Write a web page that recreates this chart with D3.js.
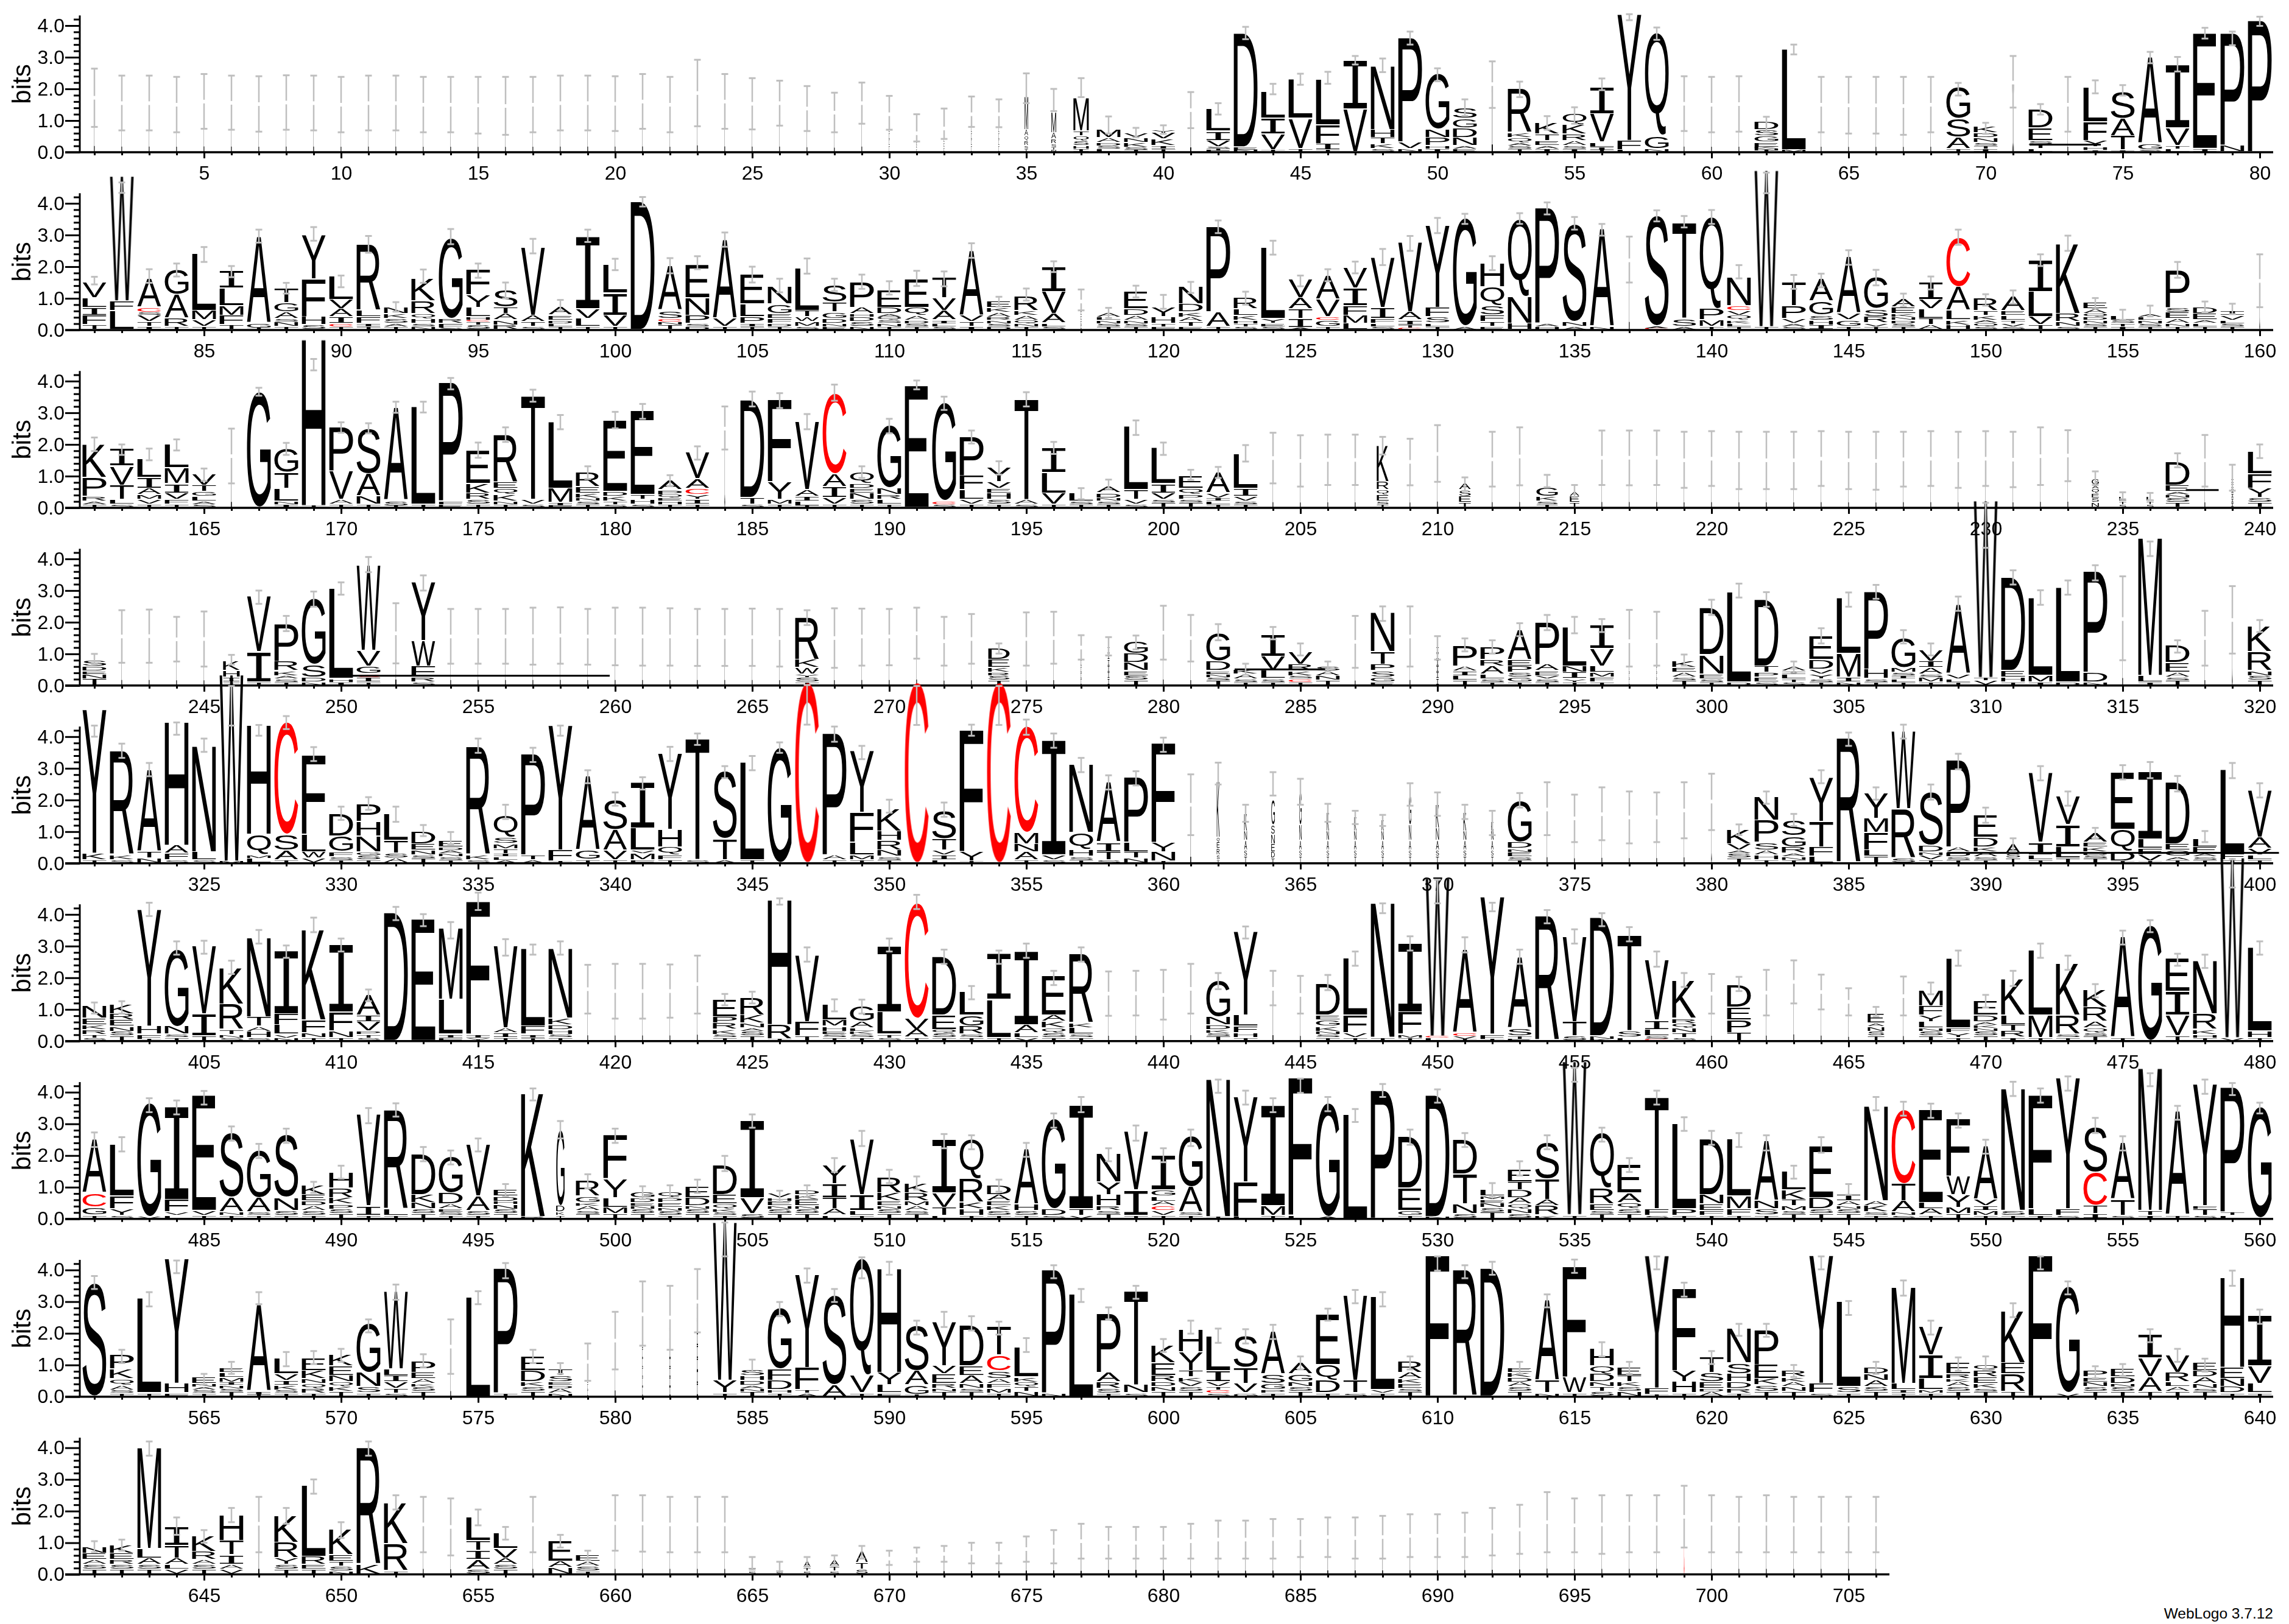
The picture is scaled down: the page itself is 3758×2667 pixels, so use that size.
<!DOCTYPE html>
<html><head><meta charset="utf-8">
<style>html,body{margin:0;padding:0;background:#fff}svg{display:block}</style>
<script src="https://d3js.org/d3.v7.min.js"></script></head><body>
<script>
// Each entry: stack letters bottom-to-top with bits | error low | error high | optional width factor
const row1=["I1.72|.8|2.64|.03","I1.55|.69|2.42|.03","I1.55|.69|2.42|.03","I1.5|.63|2.38|.03","I1.6|.74|2.47|.03","I1.56|.71|2.42|.03","I1.52|.65|2.4|.03","I1.57|.71|2.43|.03","I1.55|.69|2.42|.03","I1.5|.63|2.38|.03",
"I1.55|.69|2.42|.03","I1.55|.69|2.42|.03","I1.5|.63|2.38|.03","I1.5|.63|2.38|.03","I1.48|.59|2.38|.03","I1.46|.55|2.38|.03","I1.5|.63|2.38|.03","I1.55|.69|2.42|.03","I1.55|.69|2.42|.03","I1.53|.67|2.4|.03",
"I1.6|.74|2.47|.03","I1.5|.63|2.38|.03","I1.87|.82|2.92|.03","I1.6|.74|2.47|.03","I1.53|.72|2.34|.03","I1.55|.84|2.26|.03","I1.38|.67|2.09|.03","I1.25|.63|1.88|.03","I1.55|.9|2.2|.03","I.2I.2I.2I.2I.2I.2|.71|1.78|.03",
"I.1I.1I.1I.1I.1I.1|.34|1.2|.03","I.15I.15I.15I.15I.15|.42|1.38|.03","I.2I.2I.2I.2I.2I.2|.8|1.76|.03","I.2I.2I.2I.2I.2I.2|.79|1.67|.03","T.1S.1R.15Q.15A.2M1.05|1.55|2.49|.15","N.05T.1S.1R.15A.2M.65|1.3|2|.2","I.1H.1S.15Q.15T.15M1.05|1.74|2.34|.65","L.1S.1D.1A.15M.25|.59|1.13","T.05S.1K.15N.15V.15|.47|.77","T.1I.1K.2V.2Y.1|.58|.85",
"I1.33|.76|1.9|.05","F.05T.05S.05V.2I.3L.7|1.19|1.55","N.05E.1D3.6|3.57|3.96","T.05V.5I.5L.85|1.83|2.16","T.1V.95L1.25|2.13|2.48","T.05I.2F.6L1.45|2.16|2.54","V1.35I1.55|2.77|3.04","S.1K.15T.2H.25N2|2.53|2.96","N.1V.2P3.3|3.4|3.81","I.1H.1P.25N.25G1.75|2.24|2.65",
"E.1A.1N.25D.3G.3S.35|1.15|1.67","I2.15|1.4|2.87|.05","T.1S.1A.1Q.15K.15R1.4|1.74|2.23","I.1A.1E.15T.2K.35|.71|1.14","I.1S.1A.15R.2K.3Q.35|.9|1.42","T.05I.1L.15V.9I.85|1.96|2.33","L.05F.3Y4|4.17|4.36","N.1G.4Q3.25|3.55|3.94","I1.53|.67|2.4|.03","I1.5|.63|2.38|.03",
"I1.52|.65|2.4|.03","T.05N.05K.05E.15G.2S.2D.25|.64|1.12","M.05L3.2|3.09|3.4","I1.5|.63|2.38|.03","I1.48|.59|2.38|.03","I1.48|.59|2.38|.03","I1.46|.55|2.38|.03","I1.5|.63|2.38|.03","T.1A.35S.6G1|1.79|2.19","I.1T.1S.1N.15D.15K.2|.58|.93",
"I2.2|1.41|3.04|.05","L.1T.15S.1E.4D.6|1.19|1.52","I1.5|.65|2.38|.03","I.05H.1Y.2F.6L1.1|1.86|2.27","I.05T.45A.55S.85|1.79|2.12","S.05G.2A2.75|2.81|3.17","L.1T.1V.55I2|2.55|3.01","I.1E3.65|3.59|3.93","N.2P3.55|3.38|3.81","P4.15|3.99|4.28"];
const row2=["T.15F.3I.25L.3V.5|1.44|1.68","L.6F.3W3.95|4.33|4.66","I.1T.15V.2S.1C.15A.9|1.49|1.92","T.1R.25A.75G.8|1.69|2.1","T.1V.2M.3L1.8|2.15|2.62","T.15F.3M.3L.55I.55|1.67|2.02","T.05G.15A2.75|2.76|3.17","T.1N.15S.1A.2G.3T.45|1.15|1.49","S.15H.25F1.2Y1.4|2.82|3.25","T.1C.1I.2A.25V.3L.75|1.35|1.72",
"T.1I.1F.2L.2R2.1|2.44|2.97","T.1A.1S.15K.15N.2|.58|.88","N.1S.1H.15Q.15R.4K.7|1.49|1.91","S.05F.15R.15G2.55|2.71|3.19","S.15T.1C.05H.1L.3Y.4F.8|1.65|2.1","R.15N.15A.2T.2S.55|1|1.5","S.1T.15A.2V2.15|2.42|2.88","T.1L.1D.1E.15A.25|.61|.95","T.1L.25V.3I2.3|2.78|3.17","T.1V.35I.7L.9|1.89|2.25",
"D4.05|3.9|4.2","T.15N.1C.1S.25A1.4|1.79|2.27","D.1S.1P.25N.55E1.05|1.92|2.33","T.1V.25A2.5|2.63|3.08","T.1I.1P.2L.4E.95|1.5|2","T.1D.1F.15E.15G.3N.55|1.19|1.62","S.1M.15W.15T.2L1.35|1.78|2.26","E.1N.1D.15G.2T.3S.55|1.23|1.62","N.1S.15D.15H.1A.2P.8|1.3|1.75","T.1N.1S.1Q.1A.1D.2E.55|1.12|1.54",
"T.1S.1D.1A.15Q.25E.9|1.39|1.87","S.1L.1I.1A.3V.4T.65|1.38|1.85","I.1T.15V.2A2.05|2.28|2.74","D.1S.1N.1R.1A.15K.15E.2|.74|1.05","T.1N.1Q.1A.15K.15R.45|.93|1.31","S.1L.1A.3V.7I.8|1.83|2.17","I.15I.15I.15I.15I.15I.15|.62|1.28|.04","T.1S.1N.1L.1A.15|.38|.7","T.1S.1N.1A.15D.2E.55|1.03|1.4","F.1T.1H.2Y.3|.67|1.11",
"E.1T.15A.15K.15D.25N.55|1.17|1.52","T.1A.45P2.7|3.06|3.46","S.1T.1H.1K.15L.2R.35|.8|1.21","S.1E.1Y.15L2.25|2.38|2.82","A.05I.3T.3A.35V.6|1.38|1.72","T.1G.2C.1V.55A.75|1.54|1.92","L.2M.25F.3I.55V.65|1.79|2.16","S.1L.1F.15I.35V1.6|2.05|2.56","C.05T.1I.15A.25V2.2|2.5|2.97","T.1L.1S.2F.3Y2.6|3.06|3.54",
"A.1G3.4|3.35|3.67","E.1T.15F.2S.3Q.6H.75|1.89|2.33","H.2N.85Q2.45|3.35|3.69","H.1A.1P3.65|3.65|4.03","A.1N.15S3.1|3.17|3.57","N.1A3.1|2.98|3.35","I2.2|1.5|2.95|.03","C.05A.05S3.5|3.43|3.78","A.1S.25T3.05|3.24|3.6","T.1M.2P.35Q2.9|3.35|3.79",
"T.1L.1K.1Q.15V.15C.15N.9|1.63|2.05","T.1W4.95|4.32|4.97","S.1A.1V.15P.4T.75|1.3|1.74","I.15H.15S.15G.45A.7|1.35|1.78","T.1G.2V.2A1.8|2.06|2.52","T.1V.1R.2S.25G1|1.41|1.9","T.1S.1D.1N.1K.1E.2A.25|.74|1.15","A.15T.2L.3V.3I.55|1.28|1.69","H.15K.15L.3A.75C1.55|2.69|3.17","S.1Q.1A.1K.15T.15R.4|.77|1.13",
"S.1V.1T.1L.15E.15A.45|.83|1.25","T.15V.25L.8I1|2.02|2.39","S.1N.15R.25K2.2|2.5|2.98","T.1S.1N.1D.1Q.1A.15E.2|.67|1.01","I.1T.1S.1L.15|.32|.64","T.1S.1N.1L.1A.1|.43|.77","T.1N.1A.15E.2S.15P1.2|1.65|2.15","T.1L.1A.1E.2D.2|.56|.9","T.1S.1L.1V.15I.15|.5|.83","I1.55|.72|2.39|.03"];
const row3=["T.1A.1R.15P.6K1.05|1.79|2.22","S.1L.15T.45V.6I.55|1.67|2","T.1V.15M.15A.2I.35L.6|1.5|1.87","T.1F.15V.2I.3M.5L.75|1.81|2.16","S.1A.1L.15G.15T.2V.35|.85|1.24","I1.63|.77|2.5|.04","G3.65|3.54|3.79","I.1N.1L.4T.5G.75|1.67|2.05","T.05H5.25|4.34|4.7","T.1A.15V.9P1.4|2.37|2.7",
"T.1N.25A.7S1.45|2.35|2.67","T.05S.15A2.95|3|3.35","T.1L3.1|3.01|3.35","E.1F.1P3.75|3.74|4.1","T.1S.15R.2K.3E1.05|1.58|2.06","T.1N.1K.2Q.2E.2R1.5|2.08|2.54","S.1V.15T3.3|3.35|3.73","F.05I.1M.45L2.1|2.48|2.93","T.1S.1N.1K.15E.2R.45|.91|1.31","S.1T.1K.15D.15E2.25|2.51|3.03",
"S.1H.15T.15E2.65|2.81|3.28","T.1H.1E.1Q.1P.15A.3|.69|1.03","T.1I.15Y.15C.2A.3V.85|1.52|1.94","I2.5|1.84|3.2|.03","S.1T.2D3.1|3.2|3.67","T.1M.15Y.55F2.6|3.15|3.62","T.05L.15I.15A.2V2.15|2.48|2.96","T.1V.2I.35A.4C2.55|3.38|3.89","T.1S.15N.2E.15D.15Q.35|.94|1.31","T.1L.15R.15N.2G2|2.35|2.81",
"E3.85|3.74|4.02","S.1C.1G3.1|3.09|3.51","T.1V.15L.3F.45P1.25|2.03|2.44","T.1S.15H.2E.15V.2Y.45|1.05|1.47","S.1A.15T3.2|3.2|3.65","T.1V.35L.65I.8|1.7|2.08","T.1S.1L.25|.27|.62","T.1S.1N.1D.15A.2|.59|.89","S.1V.15T.3L2|2.3|2.76","T.15S.1V.2I.3L1.15|1.67|2.06",
"T.15S.1P.15Q.2E.4|.88|1.2","T.1L.1I.1V.15A.65|.94|1.29","T.1S.1V.15I.25L1.1|1.46|1.98","I1.57|.77|2.37|.03","I1.48|.67|2.29|.03","I1.51|.72|2.31|.03","I1.51|.72|2.31|.03","T.1S.1E.2Q.15R.25K1.15|1.68|2.24|.5","I1.45|.71|2.18|.03","I1.7|.82|2.61|.03",
"T.15E.2S.2A.2|.53|.96|.5","I1.53|.67|2.4|.03","I1.62|.71|2.54|.03","T.1S.1K.15G.3|.65|1.04|.9","T.15E.2A.15|.33|.72|.4","I1.58|.72|2.44|.03","I1.58|.71|2.44|.03","I1.58|.72|2.44|.03","I1.5|.63|2.4|.03","I1.55|.69|2.42|.03",
"I1.5|.59|2.4|.03","I1.5|.59|2.4|.03","I1.5|.59|2.4|.03","I1.55|.69|2.42|.03","I1.5|.59|2.4|.03","I1.48|.57|2.4|.03","I1.53|.67|2.4|.03","I1.55|.69|2.42|.03","I1.5|.63|2.4|.03","I1.55|.69|2.42|.03",
"I1.52|.65|2.4|.03","I1.63|.72|2.54|.03","I1.65|.84|2.45|.03","N.15S.15E.15Q.15A.1G.2|.72|1.15|.3","S.1T.1L.15|.27|.49|.3","S.1T.1L.15|.24|.47|.3","T.15S.15N.1A.1E.2D.75|1.28|1.72","I1.5|.67|2.3|.03","I.15I.15I.15I.15I.15I.15|.54|1.36|.1","T.15S.15Y.3F.45L.7|1.57|2"];
const row4=["T.2N.15E.1D.15S.2|.69|1","I1.55|.72|2.38|.03","I1.56|.72|2.4|.03","I1.46|.76|2.17|.03","I1.47|.6|2.34|.03","T.1I.15H.2K.3|.66|.97|.7","T.1I.95V1.75|2.58|3","T.1S.1A.1K.15R.3P1.2|1.72|2.2","N.1D.15S.4G2.1|2.49|2.97","I.1H.1L2.85|2.87|3.26",
"T.1I.15C.1G.25V.5W2.7|3.58|4.06","I1.65|.7|2.6|.05","S.1R.15F.35W.8Y1.85|3|3.48","I1.55|.69|2.42|.03","I1.55|.69|2.42|.03","I1.55|.69|2.42|.03","I1.56|.66|2.46|.03","I1.58|.69|2.47|.03","I1.55|.66|2.42|.03","I1.55|.64|2.46|.03",
"I1.55|.63|2.46|.03","I1.55|.63|2.44|.03","I1.53|.62|2.42|.03","I1.53|.62|2.42|.03","I1.53|.62|2.43|.03","I1.5|.6|2.42|.03","T.1S.15Y.1W.2K.25R1.35|1.91|2.38","I1.5|.56|2.44|.03","I1.55|.63|2.43|.03","I1.55|.64|2.42|.03",
"I1.65|.85|2.46|.03","I1.4|.63|2.17|.03","I1.47|.69|2.26|.03","T.15S.15R.1K.15E.25D.35|1.01|1.33|.9","I1.47|.63|2.31|.03","I1.5|.69|2.33|.03","I.2I.2I.2I.2I.2I.2|.82|1.59|.04","I.2I.2I.2I.2I.2I.2|.95|1.53|.08","T.15S.15E.15N.25D.3G.4|1.14|1.58","I1.67|.82|2.52|.03",
"I1.5|.76|2.23|.03","T.15S.1N.1E.1D.3G.9|1.43|1.94","T.1S.1A.15K.15|.34|.69","T.1S.1L.25V.45I.7|1.46|1.85","T.1C.1S.1K.15R.2V.4|.95|1.33","T.15N.15A.15S.15|.44|.76","I1.38|.56|2.2|.03","E.1G.15S.2P.2T.4N1.25|2.04|2.5","I1.55|.6|2.5|.03","I.2I.2I.2I.2I.2I.2|.82|1.56|.1",
"T.15L.15I.15A.15P.65|1.08|1.49","T.1S.1L.15A.25R.2P.4|1.01|1.43","T.1G.15S.15P.2E.2A.95|1.56|1.97","T.1S.1V.1E.15A.2P1.35|1.75|2.23","T.1Y.1I.2N.2L1.25|1.65|2.17","T.1F.15M.15L.2V.55I.75|1.69|2.1","I.2I.2I.2I.2I.2I.2I.2|.6|2.39|.03","I.2I.2I.2I.2I.2I.2I.2|.63|2.33|.03","T.15S.1A.15E.15K.2|.63|.98","T.1S.1E.15N.6D1.5|2.23|2.71",
"D.1L2.85|2.78|3.22","S.1E.15P.15T.2D2.1|2.49|2.95","S.1T.1L.15I.1A.15|.4|.76","T.1S.1Y.15V.15D.3E.75|1.33|1.81","N.1I.15M.75L1.75|2.49|2.94","T.1S.1H.3P2.45|2.74|3.18","T.1L.1I.1S.1M.15G.95|1.33|1.75","T.1M.15S.1A.2I.2V.35|.95|1.33","T.1L.1V.15A2.2|2.36|2.81","V.15T.1W5.6|4.35|5.77",
"T.1H.15E.2D2.95|3.19|3.64","I.1M.2L2.45|2.55|3.01","D.1L3|2.87|3.32","N.1D.3P3.2|3.32|3.8","I2.1|.8|3.45|.03","I.1L.2M4.35|4.09|4.55","T.15S.1A.15E.3D.55|1.04|1.43","I1.5|.63|2.36|.03","I2.07|1.01|3.14|.03","T.15S.15N.15R.6K.8|1.69|2.07"];
const row5=["T.1K.2Y4.55|4|4.35","S.1K.15R3.3|3.33|3.78","N.15T.2A2.6|2.75|3.17","S.1F.2A.25H3.9|4.06|4.45","S.1L.25N3.35|3.52|3.94","M.05W5.9|4.35|5.6","L.15M.1Q.65H3.45|4.03|4.37","T.1A.3S.5C3.55|4.24|4.65","V.15W.2L.55F2.5|3.23|3.67","T.1S.1F.15G.5D.7|1.37|1.79",
"T.1S.15G.1N.5H.45P.55|1.69|2.09","A.15S.15T.4L.85|1.31|1.79","T.15S.1N.15E.2D.4|.86|1.21","T.1S.1N.1A.1D.1E.2|.6|.99","S.1K.15R3.45|3.49|3.94","A.1L.1I.1T.15M.15S.2Q.7|1.4|1.85","A.1T.15P3.2|3.2|3.65","T.05F.35Y3.95|4.03|4.35","T.1G.3A2.35|2.53|2.94","T.1V.3A.65S.95|1.82|2.24",
"F.1M.2V.1L.7I1.45|2.33|2.72","T.1F.15Q.25H.55Y2.4|3.23|3.68","S.1T3.85|3.74|4.1","A.1T.65S2.15|2.69|3.07","T.1L3.1|2.94|3.39","G3.65|3.49|3.82","C5.7|4.38|5.63","T.1A.15P3.85|3.84|4.32","T.1M.15L.4F.95Y1.95|3.29|3.71","T.1S.1N.2R.3H.3K.7|1.6|2.01",
"C5.7|4.37|5.6","L.1I.15V.15T.35S.9|1.47|1.92","T.05Y.3F3.85|4.03|4.38","C5.7|4.37|5.6","T.1A.25N.25M.35C3.35|4.06|4.54","S.1V.15I3.65|3.65|4.1","T.1S.1H.2Q.55N2.15|2.88|3.33","S.1T.25I.3A1.9|2.33|2.78","N.15T.2L.3P2.05|2.46|2.91","T.05N.3Y.3F3.15|3.52|3.97",
"I1.85|.89|2.81|.04","T.1S.15R.2E.2Q.15K1.75|2.49|3.18|.12","T.2S.2A.3N.3K.55|1.31|1.85|.12","T.15D.2E.25N.3S.3G.8|2.14|2.88|.15","T.2S.2A.3N.5G1.05|1.85|2.67|.1","T.2S.2A.3N.3K.6|1.31|1.88|.1","T.2S.2A.3N.3K.45|1.24|1.66|.1","T.2S.2A.3N.3K.35|1.18|1.53|.1","T.2S.2A.3N.5G.95|1.82|2.53|.1","T.2S.2A.3N.4K.75|1.5|2.24|.13",
"T.2S.2A.3N.3K.6|1.4|1.85|.12","T.2S.2A.3N.3K.3|.89|1.66|.1","T.1S.1E.15N.1D.2G1.3|1.76|2.22","I1.7|.89|2.56|.03","I1.42|.67|2.17|.03","I1.55|.73|2.4|.03","I1.45|.63|2.27|.03","I1.45|.67|2.24|.03","I1.67|.79|2.56|.03","I1.95|1.05|2.83|.03",
"T.15S.15A.1V.2K.45|.89|1.23","T.1H.15A.15S.25P.7N.75|1.88|2.27","T.1N.1A.1R.2G.35S.5|1.18|1.56","L.2F.3T.8Y1.4|2.53|2.94","R3.95|3.71|4.13","T.2L.2F.55M.45Y.8|2.01|2.4","S.15R1.55W2.45|3.94|4.38","T.1V.15N.1D.2S1.7|2.01|2.49","T.1S.1D.15A.15P2.75|2.97|3.46","T.1S.1A.15K.15D.3E.7|1.28|1.76",
"T.15S.15A.3|.38|.79|.6","T.1L.15I.4V2.2|2.62|3.07","T.15L.35I.7V.9|1.82|2.27","T.15S.1D.1K.15E.15A.3|.79|1.12","T.05D.3Q.7E1.8|2.65|3.1","T.05V.2F.2L.3I2.15|2.69|3.2","T.1A.1G.2E.2D1.95|2.27|2.76","T.1S.1A.1E.2L.25|.67|1.02","T.1F.2L2.65|2.69|3.17","T.1L.15V.2A.35V1.5|2.08|2.53"];
const row6=["S.1T.1R.15K.15E.2N.4|.87|1.22","T.15S.15N.15E.2R.2K.3|.87|1.26","T.05F.15H.25Y3.7|3.95|4.37","T.1S.1N.25G2.45|2.73|3.15","T.15I.7V2.15|2.76|3.17","S.1N.1T.15R.8K1.15|2.12|2.54","S.1H.2A.15T.3N2.5|3.08|3.51","N.1V.1L.3F.35I2|2.63|3.02","T.1N.15F.4K2.85|3.44|3.9","T.1N.2F.6I2.15|2.83|3.24",
"S.1T.1P.1V.3I.2A.65|1.26|1.63","D4.05|3.82|4.24","E3.85|3.63|4.01","F.1I.1L1.1M2.25|3.24|3.76","Y.1I.1F4.2|4.14|4.69","T.1I.15A.15V2.6|2.7|3.22","T.1I.1F.25L2.45|2.73|3.05","T.1S.1H.15D.15K.2N2.2|2.73|3.15","I1.64|.87|2.41|.03","I1.58|.71|2.44|.03",
"I1.58|.71|2.44|.03","I1.58|.74|2.42|.03","I1.8|.87|2.7|.03","T.1S.1K.15R.2P.2E.55|1.13|1.49","T.15S.15A.1N.15K.25R.55|1.19|1.56","T.05R.45H3.95|4.31|4.51","T.15F.45V2.1|2.51|2.96","T.1S.1E.1H.15M.2L.5|.94|1.32","T.1S.1K.1L.1A.2G.5|.87|1.31","S.1T.1L.7I2.1|2.83|3.24",
"T.1A.25V.35C3.65|4.17|4.62","T.1S.15Q.1E.45D1.85|2.44|2.89","T.1S.1R.25G.35L.75|1.32|1.74","T.1L1.2I1.45|2.44|2.86","V.1L.15A.25I2.35|2.63|3.08","T.1S.15Q.15K.2A.2E1.25|1.77|2.22","T.1S.1L.2K.15R2.2|2.51|2.96","I1.5|.8|2.2|.03","I1.51|.81|2.22|.03","I1.46|.68|2.25|.03",
"I1.65|.87|2.44|.03","T.15S.1K.1D.15N.25G1.15|1.64|2.15","T.1H.15F.2L.35Y2.65|3.24|3.62","I1.65|1.13|2.22|.04","I1.46|.87|2.06|.03","T.1S.1N.1K.15G.2E.15D1|1.61|2.09","T.1V.15F.55L1.8|2.38|2.83","T.1N4.25|4.04|4.35","T.1M.1F.7I2.2|2.86|3.31","L.1C.05W5|4.35|5.1",
"T.05V.1C.1A2.65|2.8|3.28","T.05F.15Y4.35|4.1|4.37","E.05T.1S.25A2.25|2.44|2.89","R3.95|3.72|4.14","S.15T.45V2.7|3.08|3.53","K.05N.1D3.75|3.63|4.04","L.1S.2T3.05|3.15|3.6","C.05S.1L.2I.3V1.9|2.35|2.83","S.1T.15N.15Q.15R.15K1.2|1.71|2.15","I1.5|.87|2.12|.03",
"T.25P.4E.4D.7|1.58|2.03","I1.53|.81|2.25|.03","I1.87|1.19|2.55|.03","I1.55|1|2.1|.03","I1.24|.81|1.67|.03","T.15S.15N.15A.1E.3|.78|1.08|.7","I1.42|.81|2.04|.03","T.15S.15N.1L.2Y.2F.3M.5|1.48|1.85","T.1Y.15F.15L2.2|2.38|2.86","T.15S.15N.1K.1A.1D.2E.45|1.06|1.46",
"I.1R.2T.2L.3K1.15|1.74|2.22","T.1M.7L2.05|2.63|3.08","T.1S.1R.6K1.65|2.25|2.7","T.15S.1Q.15A.2R.45K.55|1.38|1.8","T.1A3.2|3.05|3.49","G3.65|3.44|3.82","T.15V.65I.75E1.05|2.38|2.76","T.1H.1K.15R.5N1.7|2.31|2.73","V.1W5.7|4.85|5.75","T.1H.2L2.65|2.73|3.15"];
const row7=["T.1G.25C.45A1.7|2.27|2.73","S.1Y.2F.4L1.65|2.13|2.58","V.05G3.6|3.37|3.81","L.1V.1F.4I2.95|3.3|3.74","T.1V.15E3.65|3.61|4.04","T.1N.1A.45S2.05|2.47|2.92","T.1S.1A.45G1.5|1.92|2.37","T.1S.15N.4S2|2.4|2.85","T.1S.15A.15D.15E.2K.3|.82|1.17","T.15S.15P.15K.2R.3H.5|1.27|1.68",
"T.1I.3V2.9|3.02|3.5","T.1L.2R3.15|3.23|3.65","T.15S.15N.2K.25D1.3|1.82|2.27","T.1S.1E.1A.15D.35G1.15|1.72|2.16","T.1S.15A.45V1.65|2.13|2.54","T.15S.15N.15H.1D.15E.2|.72|1.1","R.05K3.9|3.74|4.12","T.1K.1D.2G2.4|2.54|3.09|.35","T.15S.1A.15K.1G.2R.5|.96|1.41","T.15M.2L.3Y.6F1.4|2.4|2.85",
"T.15S.15N.1E.1D.15G.2|.62|1.03","T.1S.15N.1E.15P.15Q.2|.65|1.06","T.15S.15N.1D.25E.35|.82|1.24","T.1S.1K.1Q.15E.3D.95|1.51|1.99","S.15V.5I2.45|2.88|3.3","T.15S.15N.1E.15H.1V.15|.55|.89","T.15S.15N.1E.2K.15D.15|.69|1.06","L.1A.2T.35I.45Y.6|1.48|1.92","T.1L.15I.5V1.75|2.3|2.78","T.15S.15N.1E.15K.25R.5|1.13|1.55",
"T.15S.1A.15M.15R.25K.3|.93|1.34","L.1T.25V.45I1.7|2.23|2.68","T.1H.2K.2R.75Q1.25|2.2|2.64","T.1S.15K.15E.15A.2D.3|.86|1.24","T.1S.15H.2A1.75|1.96|2.4","S.1D.2G2.85|2.88|3.33","V.1T.2I3.3|3.37|3.85","T.15S.1R.15H.35Y.4N.9|1.82|2.23","T.1I.8V1.85|2.47|2.95","T.1V.15C.15A.15L.15G.2I1.1|1.79|2.23",
"T.1S.1A.8G1.6|2.3|2.82","T.05N4.35|3.98|4.4","L.05F1.1Y2.7|3.61|4.05","T.1M.3I3.2|3.37|3.81","L.1F4.35|3.98|4.43","A.05G3.6|3.4|3.85","L3.3|3.06|3.47","P4.05|3.85|4.26","T.1G.15E.7D1.65|2.34|2.82","N.05D3.85|3.67|4.09",
"S.15N.3T.95D1.1|2.27|2.71","T.2S.15N.15E.1M.1L.2|.69|1.13","S.15N.15Q.15A.2D.25T.25E.4|1.37|1.82","K.1R.3A.2T.65S1.15|2.2|2.64","T.1W4.85|4.33|4.77","T.15S.1E.2R.5Q1.75|2.44|2.88","T.15S.15Q.2A.3E.9|1.48|1.92","S.1F.2T3.55|3.61|4.05","T.1P.2L2.7|2.78|3.21","T.1F.15E.2N.3D1.75|2.34|2.78",
"T.1F.2M.4L1.8|2.27|2.71","T.1S.2N.25A1.9|2.16|2.64","T.15S.1M.15T.2K.3L.6|1.27|1.68","T.15S.15D.35E1.65|2.09|2.58","T.15S.15N.1A.15I.2|.76|1.1","T.1S.1K.2A.15N3|3.43|3.85","S.1N.1A.35T.55C2.35|3.26|3.7","T.1A.2L.2E2.95|3.19|3.64","T.15M.2Y.4W.6F1.8|2.88|3.33","T.1M.15I.15V.2A1.7|2.06|2.5",
"T.1S.15N3.85|3.88|4.33","I.1L.2F3.6|3.67|4.12","S.1F.2Y4.15|4.05|4.5","I.15T.25C1.05S1.45|2.71|3.19","S.1T.5A1.8|2.16|2.61","I.1T.15M4.5|4.19|4.6","T.1A3.3|3.13|3.57","S.1T.2F.1Y3.85|3.95|4.4","L.1T.1P3.95|3.91|4.29","G3.5|3.33|3.67"];
const row8=["S3.6|3.4|3.81","T.1S.1A.15Q.2K.3P.45|1.06|1.48","T.1L3|2.85|3.3","F.1H.3Y3.95|3.9|4.3","T.1S.1A.1N.1E.2|.38|.72","T.15S.1N.1I.1M.15L.15E.15|.72|1.1","T.05I.1A2.75|2.92|3.3","T.1S.1K.15I.15V.2L.5|.96|1.41","T.1R.15Q.15N.15K.25E.4|1.03|1.44","T.15K.15Q.15N.2E.3K.35|1.1|1.51",
"T.1S.2N.45G1.55|2.03|2.44","S.1T.15V.2I.2L.2W2.45|3.06|3.54","T.15S.15K.1A.15E.2P.35|.93|1.34","I1.58|.72|2.44|.03","L3.15|2.92|3.33","T.1P3.95|3.74|4.22","T.15S.15K.15D.35E.45|1.06|1.48","N.1A.15D.1E.1S.2T.2|.72|1.06","I.2I.2I.2I.2I.2I.1|.5|1.68|.03","I1.77|.86|2.68|.03",
"I.3I.3I.3I.3I.3I.3I.3I.3I.2|1.61|3.64|.03","I.3I.3I.3I.3I.3I.3I.3I.4|1.48|3.5|.05","I.4I.4I.4I.4I.4I.4I.4I.2|2.03|4.03|.05","T.1Y.4W5|4.43|5.5","T.15N.1A.1D.15H.15S.2|.79|1.17","T.1H.1D.3F.35G1.95|2.54|2.99","A.1T.1F.7Y2.95|3.6|4.05","A.35S2.85|2.99|3.4","T.1V.55Q3.7|3.74|4.4","F.1L.25Y.4H3.3|3.85|4.26",
"T.05G.3A.45S1.45|1.96|2.4","T.15N.1R.15E.3V.25Y1.4|2.2|2.68","T.15S.1N.15A.25E.3D1.3|2.09|2.54","T.1M.15F.15A.15S.25C.5T.9|1.96|2.37","N.15T.15Q.15K.15L.95|1.41|1.85","N.1P3.9|3.74|4.15","L3.25|2.99|3.4","T.1S.15R.2A.3P1.85|2.44|2.82","S.1N.25T3|3.09|3.5","T.15N.15D.15R.2E.4K.55|1.41|1.82",
"T.15S.15V.15K.15T.2Y.6H.7|1.99|2.4","S.1C.1T.1V.15I.35L1.1|1.7|2.15","G.1V.3T.5S1|1.68|2.13","T.1P.1G.2S.3A1.35|1.82|2.27","T.15S.15N.15G.25A.35|.86|1.27","T.1D.4Q.5E1.6|2.4|2.78","S.1T.4V2.7|2.95|3.37","T.1V.1L2.95|2.85|3.3","T.15S.1E.15K.15A.2R.35|.86|1.27","F4.45|3.98|4.43",
"R4|3.74|4.15","D4.05|3.85|4.26","T.15S.15A.15D.15K.15E.15|.72|1.1","N.1T.4A2.55|2.82|3.23","T.1W.5F3.5|3.91|4.33","S.15T.15N.15D.25Q.25H.55|1.27|1.72","N.15S.15K.15T.2E.25|.72|1.1","T.05F.2Y4.2|4.02|4.43","T.1H.35Y.35F2.6|3.16|3.6","A.15D.1E.2S.3T.5|1.03|1.44",
"T.1R.15D.2H.25S.35N1.1|1.92|2.3","T.15S.2K.2E.45P1.1|1.89|2.3","T.15N.15A.15K.15R.2|.62|1","S.1F.3Y4.05|4.02|4.43","T.1S.2L2.7|2.58|3.02","T.15S.15A.2N.2D.2|.72|1.1","T.1I.1L.2M3.05|3.19|3.67","T.1M.1L.35I.75V.9|1.96|2.4","T.15S.15A.15K.1R.15E.35|.82|1.24","T.15S.1K.15E.2R.2Q.2|.86|1.27",
"T.15R.55E.35K1.65|2.51|2.95","F4.45|4.02|4.43","V.1G3.35|3.23|3.64","T.15S.15N.15E.15P.2|.58|.96","T.15S.15N.1D.2E.25|.65|1.03","T.15A.45V.6I.75|1.72|2.13","T.15A.15L.15R.3V.55|1.1|1.51","T.15S.1N.15A.2D.2E.25|.79|1.2","T.1D.2N.25E.35H2.85|3.5|3.98","T.1L.3V.55I1.6|2.3|2.75"];
const row9=["T.15S.15A.15E.2N.2|.7|1.05","T.15S.15R.15E.2K.25|.75|1.1","T.15S.15A.2L.3M3.2|3.75|4.2","V.15L.15A.2T.4I.6|1.25|1.8","T.15S.15A.15R.25K.5|1|1.4","V.15A.15I.3T.45H.8|1.65|2.1","I1.6|.7|2.45|.05","T.15S.15Y.2R.5K.85|1.6|2.1","T.15E.15R.25L2.25|2.55|3","N.1S.15T.15E.2K.8|1.15|1.65",
"K.3R3.7|3.75|4.2","T.1R.85K1.3|2.05|2.5","I1.58|.7|2.45|.03","I1.5|.6|2.4|.03","S.15A.3I.3T.3L.75|1.55|2.05","T.15S.15A.2V.3L.5|1.1|1.5","I1.58|.7|2.45|.03","N.2A.2E.65|.85|1.25","T.1S.15A.15E.2|.45|.75","I1.62|.75|2.5|.03",
"I1.61|.72|2.5|.03","I1.58|.7|2.45|.03","I1.58|.7|2.45|.03","I1.58|.7|2.45|.03","S.1T.1|.15|.55|.3","S.05T.05|.1|.4|.3","S.1T.1A.2|.25|.55|.3","S.1T.15A.2|.3|.6|.4","S.15T.2A.35|.5|.9|.5","I.5|.3|.75|.05",
"I.6|.4|.85|.05","I.65|.4|.9|.05","I.68|.35|1|.05","I.68|.35|1|.05","I.8|.4|1.2|.05","I.88|.35|1.4|.05","I1.05|.5|1.6|.05","I1|.5|1.5|.05","I1|.5|1.5|.05","I1|.5|1.5|.05",
"I1.05|.5|1.6|.04","I1.1|.5|1.7|.04","I1.1|.5|1.7|.04","I1.12|.5|1.75|.04","I1.15|.55|1.75|.04","I1.18|.55|1.8|.04","I1.15|.5|1.8|.04","I1.18|.5|1.85|.04","I1.22|.55|1.9|.04","I1.22|.55|1.9|.04",
"I1.25|.55|1.95|.04","I1.35|.6|2.1|.04","I1.42|.65|2.2|.04","I1.65|.7|2.6|.03","I1.55|.7|2.4|.03","I1.58|.65|2.5|.03","I1.6|.7|2.5|.03","I1.6|.7|2.5|.03","C1.82|.85|2.8|.03","I1.6|.7|2.5|.03",
"I1.58|.7|2.45|.03","I1.6|.7|2.5|.03","I1.58|.7|2.45|.03","I1.58|.7|2.45|.03","I1.58|.7|2.45|.03","I1.58|.7|2.45|.03"];
// Long stray strokes: from position, to position, height in bits
const strayStrokes=[[71.6,74.2,.24],[237.3,238.5,.56],[250.4,259.8,.31],[282.6,285.9,.51],[388.6,400.7,.33]];
const yMajor=[0,1,2,3,4];
const yMinor=[.2,.4,.6,.8,1.2,1.4,1.6,1.8,2.2,2.4,2.6,2.8,3.2,3.4,3.6,3.8,4.2];
const rows=[row1,row2,row3,row4,row5,row6,row7,row8,row9];
const rowsPerLine=80;

const W=3758,H=2667,axisX=131,x0=155,step=45,bitPx=52,firstBase=250,rowGap=291.95,glyphW=39;
const sansFont="'Liberation Sans',Arial,sans-serif",monoFont="'Liberation Mono',monospace";
const svg=d3.select("body").append("svg").attr("width",W).attr("height",H).attr("viewBox",[0,0,W,H]).style("background","#fff");
const ctx=document.createElement("canvas").getContext("2d");
const FS=200,metricsCache={};
function fontOf(l){return l==="I"?monoFont:sansFont}
function ink(l){if(metricsCache[l])return metricsCache[l];ctx.font=FS+"px "+fontOf(l);const m=ctx.measureText(l);
 return metricsCache[l]={l:m.actualBoundingBoxLeft,r:m.actualBoundingBoxRight,a:m.actualBoundingBoxAscent,d:m.actualBoundingBoxDescent}}
function parse(s,pos){const f=s.split("|"),letters=[];let c=0;const re=/([A-Z])(\d*\.?\d+)/g;let m;
 while((m=re.exec(f[0]))){const h=+m[2];letters.push({l:m[1],from:c,to:c+h});c+=h}
 return {pos,letters,top:c,lo:+f[1],hi:+f[2],w:f[3]?+f[3]:1}}

rows.forEach((row,ri)=>{
 const start=ri*rowsPerLine+1,base=firstBase+ri*rowGap;
 const x=d3.scaleLinear().domain([start,start+rowsPerLine-1]).range([x0,x0+(rowsPerLine-1)*step]);
 const y=d3.scaleLinear().domain([0,1]).range([base,base-bitPx]);
 const data=row.map((s,i)=>parse(s,start+i));
 const last=start+row.length-1;
 const g=svg.append("g");
 // stacks (group opacity keeps the stretched glyphs free of coloured subpixel fringes)
 const flat=data.flatMap(d=>d.letters.map(t=>({...t,pos:d.pos,w:d.w})));
 g.append("g").attr("opacity",.999).selectAll("text").data(flat).join("text")
  .text(d=>d.l).attr("font-family",d=>fontOf(d.l)).attr("font-size",FS)
  .attr("fill",d=>d.l==="C"?"#ff0000":"#000")
  .attr("transform",d=>{const m=ink(d.l),w=Math.max(glyphW*d.w,1.2);
    const yt=y(d.to),full=y(d.from)-yt,pad=d.w<.06?(d.to-d.from>1?0:1.5):Math.min(2,full*.2),hh=Math.max(full-pad,.6);
    const sx=w/(m.l+m.r),sy=hh/(m.a+m.d);
    return `translate(${x(d.pos)-w/2+m.l*sx},${yt+m.a*sy}) scale(${sx},${sy})`});
 // stray strokes
 g.append("g").selectAll("rect").data(strayStrokes.filter(s=>s[0]>=start-1&&s[0]<=last)).join("rect")
  .attr("x",d=>x(d[0])).attr("width",d=>x(d[1])-x(d[0])).attr("y",d=>y(d[2])-1.5).attr("height",3).attr("fill","#000");
 // error bars
 const eb=g.append("g").attr("stroke","#bfbfbf").attr("fill","none");
 eb.selectAll("line.v").data(data).join("line").attr("class","v").attr("stroke-width",2.5)
  .attr("x1",d=>x(d.pos)).attr("x2",d=>x(d.pos)).attr("y1",d=>y(d.lo)).attr("y2",d=>y(d.hi));
 ["lo","hi"].forEach(k=>eb.selectAll("line."+k).data(data).join("line").attr("class",k).attr("stroke-width",3)
  .attr("x1",d=>x(d.pos)-5.5).attr("x2",d=>x(d.pos)+5.5).attr("y1",d=>y(d[k])).attr("y2",d=>y(d[k])));
 // gap in the bar at the top of hairline stacks
 g.append("g").selectAll("rect").data(data.filter(d=>d.w<=.05&&d.top>d.lo&&d.top<d.hi)).join("rect")
  .attr("x",d=>x(d.pos)-3).attr("width",6).attr("y",d=>y(d.top)-3).attr("height",6).attr("fill","#fff");
 // axes
 const allPos=d3.range(start,last+1);
 const xMinor=d3.axisBottom(x).tickValues(allPos).tickSize(5).tickFormat("");
 const xMajor=d3.axisBottom(x).tickValues(allPos.filter(p=>p%5===0)).tickSize(10).tickFormat(d3.format("d"));
 const rightEnd=x(last)+22;
 const styleAxis=a=>{a.selectAll("line").attr("stroke","#000").attr("stroke-width",3);a.select(".domain").remove();
   a.selectAll("text").attr("fill","#000").attr("font-family",sansFont).attr("font-size",32).attr("y",45).attr("dy",0)};
 const ax1=svg.append("g").attr("transform",`translate(0,${base})`).call(xMinor);styleAxis(ax1);
 const ax2=svg.append("g").attr("transform",`translate(0,${base})`).call(xMajor);styleAxis(ax2);
 svg.append("line").attr("x1",axisX-24).attr("x2",rightEnd).attr("y1",base).attr("y2",base).attr("stroke","#000").attr("stroke-width",3.5);
 const yAxM=d3.axisLeft(y).tickValues(yMajor).tickSize(24).tickPadding(1).tickFormat(d3.format(".1f"));
 const yAxN=d3.axisLeft(y).tickValues(yMinor).tickSize(10).tickFormat("");
 const st=a=>{a.selectAll("line").attr("stroke","#000").attr("stroke-width",3);a.select(".domain").remove();
   a.selectAll("text").attr("fill","#000").attr("font-family",sansFont).attr("font-size",32)};
 const a3=svg.append("g").attr("transform",`translate(${axisX},0)`).call(yAxM);st(a3);
 const a4=svg.append("g").attr("transform",`translate(${axisX},0)`).call(yAxN);st(a4);
 svg.append("line").attr("x1",axisX).attr("x2",axisX).attr("y1",base).attr("y2",y(4.32)).attr("stroke","#000").attr("stroke-width",3);
 svg.append("text").text("bits").attr("font-family",sansFont).attr("font-size",42).attr("fill","#000")
  .attr("text-anchor","middle").attr("transform",`translate(50,${base-112}) rotate(-90)`);
});
svg.append("text").text("WebLogo 3.7.12").attr("x",3732).attr("y",2658).attr("text-anchor","end")
 .attr("font-family",sansFont).attr("font-size",24.5).attr("fill","#000");
</script></body></html>
